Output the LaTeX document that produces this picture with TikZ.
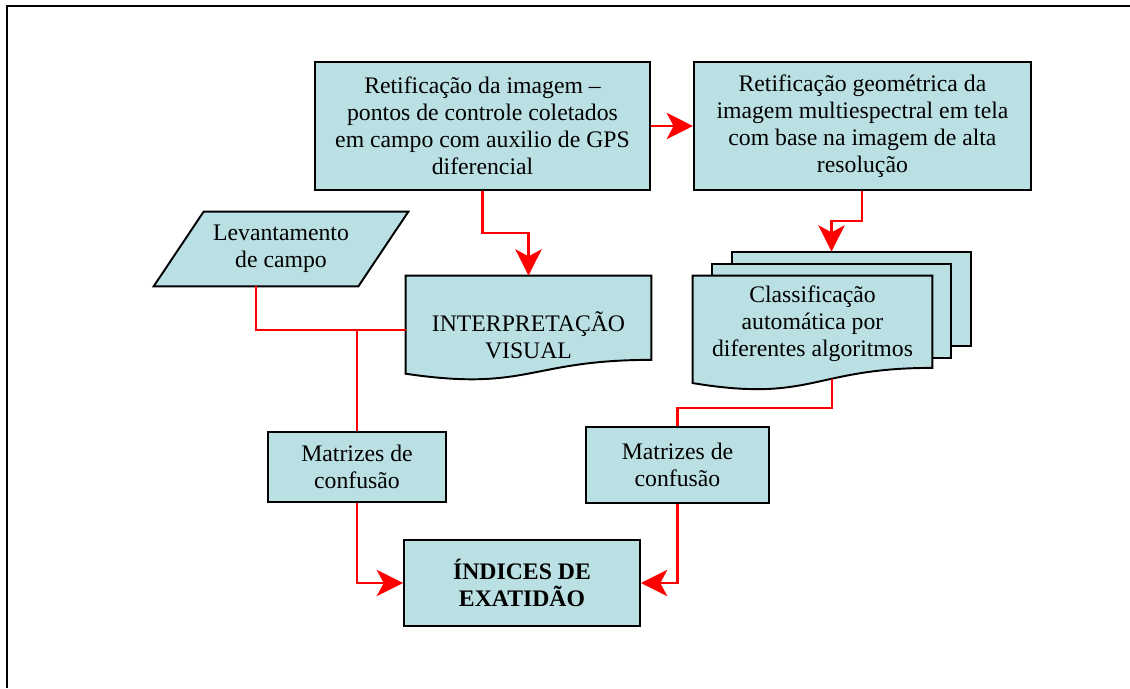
\documentclass[tikz,border=0pt]{standalone}
\usepackage{fontspec}
\setmainfont{Liberation Serif}
\usetikzlibrary{positioning,calc,arrows.meta,backgrounds}
\definecolor{boxblue}{HTML}{BBE0E3}

\tikzset{
  box/.style={draw=black,line width=1.1pt,fill=boxblue,align=center,inner sep=2pt},
  textbox/.style={align=center,inner sep=2pt},
  boxfill/.style={draw=black,line width=1.1pt,fill=boxblue},
  link/.style={draw=red,line width=1.2pt},
}

\newcommand{\docshape}[2]{%
  \path[boxfill] (#1.north west) -- (#1.north east) -- ($(#1.north east)+(0,-0.802*#2)$)
    .. controls ($(#1.north)+(0,-0.802*#2)$) and ($(#1.north)+(0,-1.107*#2)$)
    .. ($(#1.north west)+(0,-0.934*#2)$) -- cycle;}

\begin{document}
\begin{tikzpicture}[>={Stealth[length=15pt,width=15pt,inset=4pt]},font=\fontsize{13.5}{15.4}\selectfont]

\useasboundingbox (0,0) rectangle (22.6,-13.76);
\draw[line width=1.2pt] (0.14,-13.76) |- (22.6,-0.12);


\node[box,minimum width=6.7cm,minimum height=2.56cm] (retA) at (9.65,-2.52) {Retificação da imagem –\\pontos de controle coletados\\em campo com auxilio de GPS\\diferencial};
\node[box,minimum width=6.74cm,minimum height=2.56cm,right = 0.84cm of retA] (retB) {Retificação geométrica da\\imagem multiespectral em tela\\com base na imagem de alta\\resolução};

\node[textbox,minimum width=4.08cm,minimum height=1.48cm] (lev) at (5.62,-4.98) {Levantamento\\de campo};
\node[textbox,minimum width=4.9cm,minimum height=2.36cm] (interp) at (10.57,-6.70) {INTERPRETAÇÃO\\VISUAL};
\node[textbox,minimum width=4.78cm,minimum height=1.92cm] (clas) at (16.25,-6.48) {Classificação\\automática por\\diferentes algoritmos};
\node[textbox,minimum width=4.78cm,minimum height=1.88cm] (sheet2) at ($(clas)+(0.38,0.26)$) {};
\node[textbox,minimum width=4.78cm,minimum height=1.88cm] (sheet3) at ($(clas)+(0.78,0.50)$) {};

\begin{scope}[on background layer]
\path[boxfill] (sheet3.north west) rectangle (sheet3.south east);
\path[boxfill] (sheet2.north west) rectangle (sheet2.south east);
\docshape{clas}{2.3}
\docshape{interp}{2.1}
\path[boxfill] ($(lev.north west)+(0.5,0)$) -- ($(lev.north east)+(0.5,0)$)
  -- ($(lev.south east)+(-0.5,0)$) -- ($(lev.south west)+(-0.5,0)$) -- cycle;
\end{scope}


\node[box,minimum width=3.56cm,minimum height=1.4cm] (matL) at (7.14,-9.34) {Matrizes de\\confusão};
\node[box,minimum width=3.66cm,minimum height=1.52cm] (matR) at (13.55,-9.30) {Matrizes de\\confusão};
\node[box,minimum width=4.72cm,minimum height=1.72cm,font=\fontsize{13.5}{15.4}\selectfont\bfseries] (idx) at (10.44,-11.66) {ÍNDICES DE\\EXATIDÃO};

\coordinate (m1) at ($(retA.south)!0.5!(retA.south |- interp.north)$);
\coordinate (stacktop) at ($(sheet3.north)+(-0.4,0)$);
\coordinate (m2) at ($(retB.south)!0.5!(retB.south |- stacktop)$);
\coordinate (clasbot) at ($(clas.south)+(0.39,-0.14)$);
\coordinate (levbot) at ($(lev.south)+(-0.5,0)$);
\coordinate (interpin) at ($(interp.north west)+(0,-1.08)$);


\draw[link,->] (retA) -- (retB);
\draw[link,->] (retA.south) -- (m1) -| (interp.north);
\draw[link,->] (retB.south) -- (m2) -| (stacktop);
\draw[link] (levbot) |- (interpin);
\draw[link] (matL.north) -- (matL.north |- interpin);
\draw[link] (clasbot) |- ($(matR.north)+(0,0.36)$) -- (matR.north);
\draw[link,->] (matL.south) |- (idx.west);
\draw[link,->] (matR.south) |- (idx.east);

\end{tikzpicture}
\end{document}
